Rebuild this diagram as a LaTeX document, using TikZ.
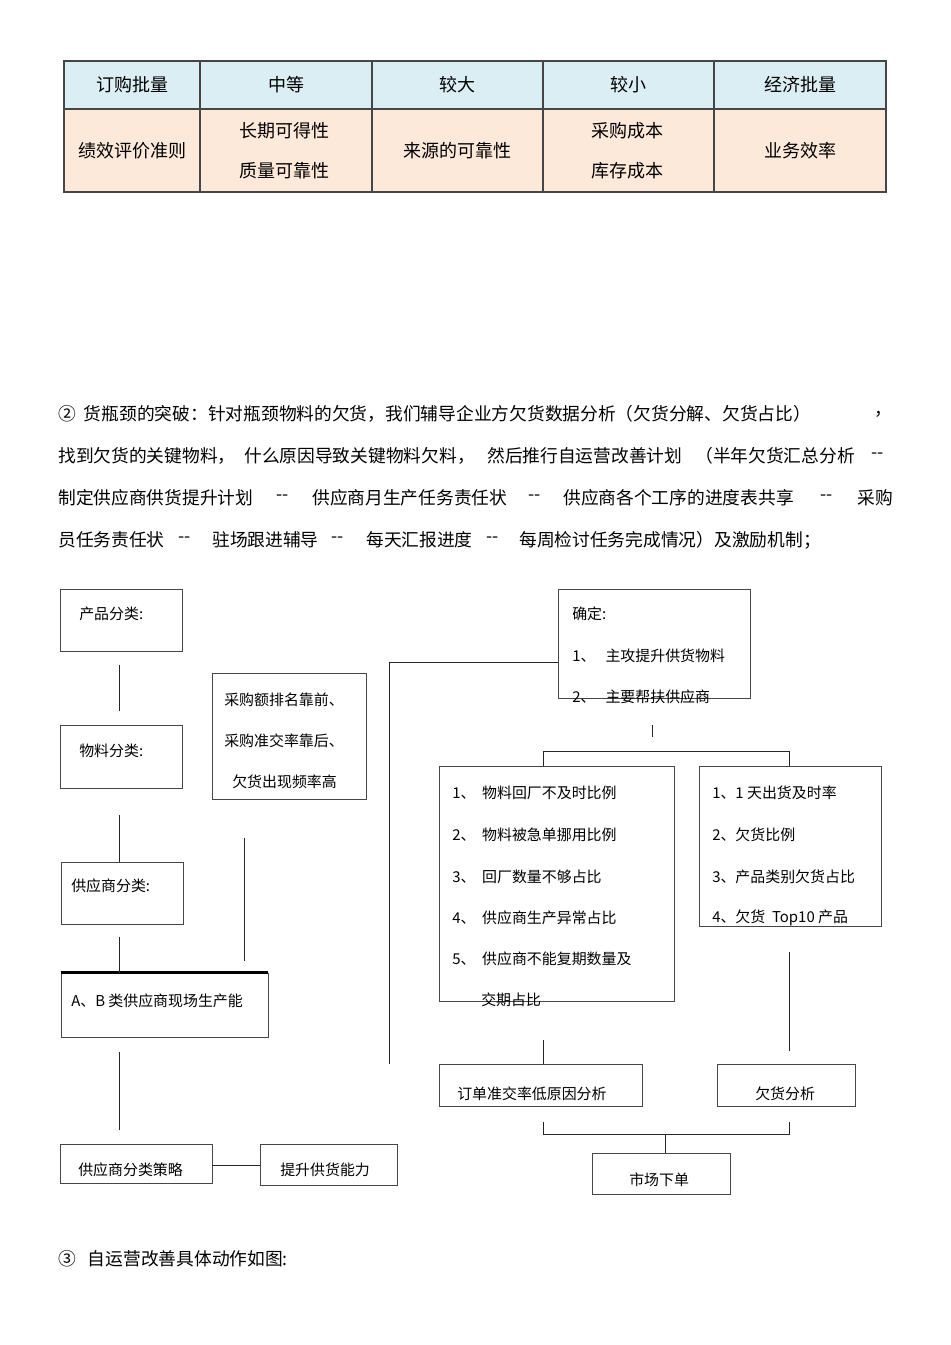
\documentclass[tikz,border=0pt]{standalone}
\usepackage{fontspec}
\setmainfont{Noto Sans CJK SC}
\usetikzlibrary{fit,calc}
\definecolor{hdr}{RGB}{219,238,243}
\definecolor{bdy}{RGB}{253,233,217}
\definecolor{edge}{RGB}{70,70,70}
\newcommand{\dd}{-{}-}
\begin{document}
\begin{tikzpicture}[x=0.75pt,y=-0.75pt,
  box/.style={draw=edge,line width=0.7pt,inner sep=0pt},
  hcell/.style={draw=edge,line width=0.9pt,fill=hdr,inner sep=0pt},
  bcell/.style={draw=edge,line width=0.9pt,fill=bdy,inner sep=0pt},
  tx/.style={inner sep=0pt,font=\fontsize{13.5pt}{15pt}\selectfont},
  para/.style={anchor=west,inner sep=0pt,font=\fontsize{13.3pt}{15pt}\selectfont},
  lbl/.style={anchor=west,inner sep=0pt,font=\fontsize{11.2pt}{12pt}\selectfont},
  cn/.style={line width=0.7pt,draw=black!85}]
\useasboundingbox (0,0) rectangle (950,1345);

% ---------- table ----------
\node[hcell,fit={(64,61)(200,109)}] (h1) {};
\node[hcell,fit={(200,61)(372,109)}] (h2) {};
\node[hcell,fit={(372,61)(543,109)}] (h3) {};
\node[hcell,fit={(543,61)(714,109)}] (h4) {};
\node[hcell,fit={(714,61)(886,109)}] (h5) {};
\node[bcell,fit={(64,109)(200,192)}] (c1) {};
\node[bcell,fit={(200,109)(372,192)}] (c2) {};
\node[bcell,fit={(372,109)(543,192)}] (c3) {};
\node[bcell,fit={(543,109)(714,192)}] (c4) {};
\node[bcell,fit={(714,109)(886,192)}] (c5) {};
\node[tx] (th1) at (h1.center) {订购批量};
\node[tx] (th2) at (h2.center) {中等};
\node[tx] (th3) at (h3.center) {较大};
\node[tx] (th4) at (h4.center) {较小};
\node[tx] (th5) at (h5.center) {经济批量};
\node[tx] (tc1) at (c1.center) {绩效评价准则};
\node[tx] (tc2a) at (284,131) {长期可得性};
\node[tx] (tc2b) at (284,171) {质量可靠性};
\node[tx] (tc3) at (c3.center) {来源的可靠性};
\node[tx] (tc4a) at (627,131) {采购成本};
\node[tx] (tc4b) at (627,171) {库存成本};
\node[tx] (tc5) at (c5.center) {业务效率};

% ---------- paragraph ----------
\node[para] (l1a) at (58,414) {②\ \ 货瓶颈的突破：针对瓶颈物料的欠货，我们辅导企业方欠货数据分析（欠货分解、欠货占比）};
\node[para] (l1b) at (874,414) {，};
\node[para] (l2a) at (58,456) {找到欠货的关键物料，};
\node[para] (l2b) at (244,456) {什么原因导致关键物料欠料，};
\node[para] (l2c) at (487,456) {然后推行自运营改善计划};
\node[para] (l2d) at (695,456) {（半年欠货汇总分析};
\node[para] (l2e) at (871,456) {\dd};
\node[para] (l3a) at (58,498) {制定供应商供货提升计划};
\node[para] (l3b) at (276,498) {\dd};
\node[para] (l3c) at (312,498) {供应商月生产任务责任状};
\node[para] (l3d) at (528,498) {\dd};
\node[para] (l3e) at (563,498) {供应商各个工序的进度表共享};
\node[para] (l3f) at (820,498) {\dd};
\node[para] (l3g) at (857,498) {采购};
\node[para] (l4a) at (58,540) {员任务责任状};
\node[para] (l4b) at (178,540) {\dd};
\node[para] (l4c) at (212,540) {驻场跟进辅导};
\node[para] (l4d) at (331,540) {\dd};
\node[para] (l4e) at (366,540) {每天汇报进度};
\node[para] (l4f) at (486,540) {\dd};
\node[para] (l4g) at (519,540) {每周检讨任务完成情况）及激励机制；};

% ---------- left column ----------
\node[box,fit={(60,589)(182,651)}] (p1) {};
\node[lbl] (tp1) at (79,614) {产品分类:};
\node[box,fit={(60,725)(182,788)}] (p2) {};
\node[lbl] (tp2) at (79,751) {物料分类:};
\node[box,fit={(61,862)(183,924)}] (p3) {};
\node[lbl] (tp3) at (71,886) {供应商分类:};
\node[box,fit={(61,973)(268,1037)}] (p4) {};
\draw[line width=1.6pt,draw=black] (p4.north west) -- (p4.north east);
\node[lbl] (tp4) at (71,1001) {A、B 类供应商现场生产能};
\node[box,fit={(60,1144)(212,1183)}] (p5) {};
\node[lbl] (tp5) at (78,1170) {供应商分类策略};
\node[box,fit={(260,1144)(397,1185)}] (p6) {};
\node[lbl] (tp6) at (280,1170) {提升供货能力};

\node[box,fit={(212,673)(366,799)}] (q1) {};
\node[lbl] (tq1a) at (224,700) {采购额排名靠前、};
\node[lbl] (tq1b) at (224,741) {采购准交率靠后、};
\node[lbl] (tq1c) at (232,782) {欠货出现频率高};

\draw[cn] (119,665) -- (119,711);
\draw[cn] (119,815) -- (p3.north -| 119,0);
\draw[cn] (119,937) -- (p4.north -| 119,0);
\draw[cn] (119,1052) -- (119,1130);
\draw[cn] (p5.east |- 0,1165) -- (p6.west |- 0,1165);
\draw[cn] (244,838) -- (244,961);

% ---------- right part ----------
\node[box,fit={(558,589)(750,698)}] (r1) {};
\node[lbl] (tr1a) at (572,614) {确定:};
\node[lbl] (tr1b) at (572,656) {1、\ \ \ 主攻提升供货物料};
\node[lbl] (tr1c) at (572,697) {2、\ \ \ 主要帮扶供应商};
\draw[cn] (389,1064) -- (389,662) -- (r1.west |- 0,662);
\draw[cn] (652,725) -- (652,737);

\node[box,fit={(439,766)(674,1001)}] (r2) {};
\node[lbl] (tr2a) at (452,793) {1、\ \ 物料回厂不及时比例};
\node[lbl] (tr2b) at (452,835) {2、\ \ 物料被急单挪用比例};
\node[lbl] (tr2c) at (452,877) {3、\ \ 回厂数量不够占比};
\node[lbl] (tr2d) at (452,918) {4、\ \ 供应商生产异常占比};
\node[lbl] (tr2e) at (452,959) {5、\ \ 供应商不能复期数量及};
\node[lbl] (tr2f) at (481,1000) {交期占比};

\node[box,fit={(699,766)(881,926)}] (r3) {};
\node[lbl] (tr3a) at (712,793) {1、1 天出货及时率};
\node[lbl] (tr3b) at (712,835) {2、欠货比例};
\node[lbl] (tr3c) at (712,877) {3、产品类别欠货占比};
\node[lbl] (tr3d) at (712,918) {4、欠货\ \ Top10 产品};

\draw[cn] (r2.north -| 543,0) -- (543,751) -- (789,751) -- (r3.north -| 789,0);

\node[box,fit={(439,1064)(642,1106)}] (r4) {};
\node[lbl] (tr4) at (457,1094) {订单准交率低原因分析};
\node[box,fit={(717,1064)(855,1106)}] (r5) {};
\node[lbl] (tr5) at (755,1094) {欠货分析};
\draw[cn] (543,1040) -- (r4.north -| 543,0);
\draw[cn] (789,952) -- (789,1051);

\node[box,fit={(592,1153)(730,1194)}] (r6) {};
\node[lbl] (tr6) at (629,1180) {市场下单};
\draw[cn] (543,1122) -- (543,1134) -- (789,1134) -- (789,1122);
\draw[cn] (665,1134) -- (r6.north -| 665,0);

% ---------- footer ----------
\node[para] (l5) at (58,1259) {③\ \ \ 自运营改善具体动作如图:};
\end{tikzpicture}
\end{document}
